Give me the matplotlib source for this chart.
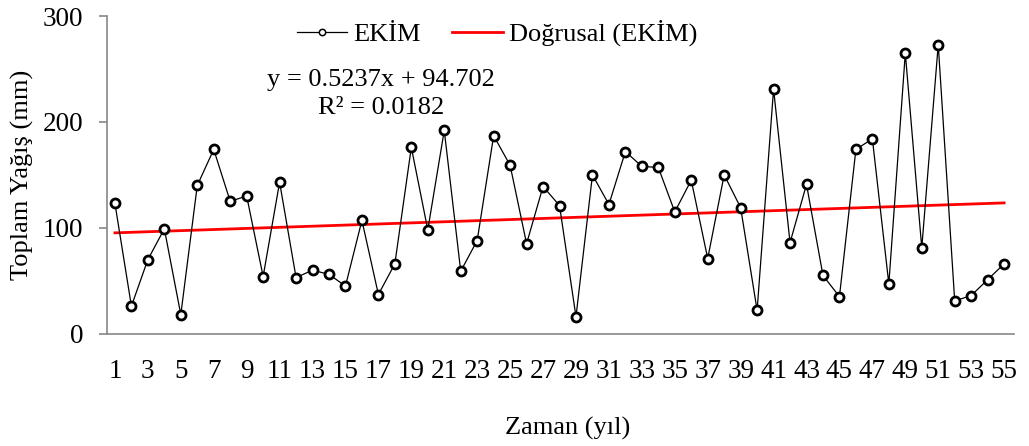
import matplotlib
matplotlib.use("Agg")
import matplotlib.pyplot as plt
import numpy as np

# Ekim ayı toplam yağış (mm), 55 yıl
years = np.arange(1, 56)
ekim = [123, 26, 70, 99, 18, 140, 174, 125, 130, 54,
        143, 53, 60, 56, 45, 107, 37, 66, 176, 98,
        192, 59, 88, 187, 159, 85, 139, 121, 16, 150,
        122, 172, 158, 157, 115, 145, 71, 150, 119, 22,
        231, 86, 141, 55, 35, 174, 184, 47, 265, 81,
        273, 31, 36, 51, 66]
slope = 0.5237
intercept = 94.702
eq_text = "y = 0.5237x + 94.702"
r2_text = "R² = 0.0182"
xtick_labels = [str(v) for v in range(1, 56, 2)]
yticks = [0, 100, 200, 300]

plt.rcParams['font.family'] = ['Liberation Serif', 'DejaVu Serif']

fig = plt.figure(figsize=(10.29, 4.46), dpi=100)
ax = fig.add_axes([0.1037, 0.2518, 0.8817, 0.7123])

ax.plot(years, ekim, color='black', lw=0.9, marker='o', ms=6.5,
        mfc='white', mec='black', mew=2, label='EKİM', zorder=3)
trend = slope * years + intercept
ax.plot(years, trend, color='#ff0000', lw=2, label='Doğrusal (EKİM)', zorder=2)

ax.set_xlim(0.5, 55.6)
ax.set_ylim(0, 300)
ax.set_yticks(yticks)
ax.set_xticks(range(1, 56, 2))
ax.set_xticklabels(xtick_labels)

for s in ['top', 'right']:
    ax.spines[s].set_visible(False)
for s in ['left', 'bottom']:
    ax.spines[s].set_color('#888888')
    ax.spines[s].set_linewidth(1.2)
ax.tick_params(axis='y', direction='out', length=6, width=1.2, color='#888888',
               labelsize=19.5, pad=11)
ax.tick_params(axis='x', length=0, labelsize=19.5, pad=18)

fig.text(22 / 1029, 1 - 175 / 446, 'Toplam Yağış (mm)', rotation=90,
         ha='center', va='center', fontsize=19)
fig.text(568 / 1029, 1 - 428 / 446, 'Zaman (yıl)', ha='center', va='center',
         fontsize=19)

ax.text(381 / 1029, 1 - 80 / 446, eq_text, transform=fig.transFigure,
        ha='center', va='center', fontsize=19)
ax.text(381 / 1029, 1 - 108 / 446, r2_text, transform=fig.transFigure,
        ha='center', va='center', fontsize=19)

leg = ax.legend(loc='center', bbox_to_anchor=(497 / 1029, 1 - 33 / 446),
                bbox_transform=fig.transFigure, ncol=2, frameon=False,
                fontsize=19, markerscale=0.7, handlelength=1.9,
                handletextpad=0.23, columnspacing=1.2)
# ince kenarlı küçük daire (lejant)
leg.legend_handles[0].set_markeredgewidth(1.1)

fig.savefig('out.png', dpi=100)
